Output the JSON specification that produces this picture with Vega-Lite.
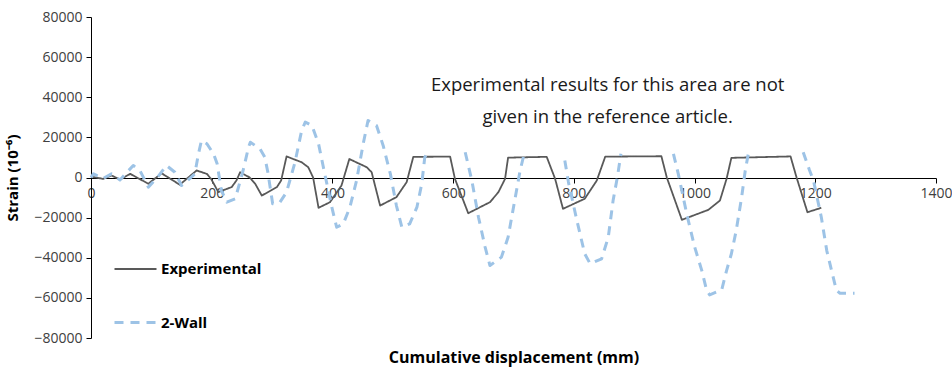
{
  "$schema": "https://vega.github.io/schema/vega-lite/v6.json",
  "width": 845,
  "height": 321,
  "autosize": {"type": "none"},
  "padding": {"left": 91, "top": 17, "right": 16, "bottom": 31},
  "background": "#ffffff",
  "config": {
    "view": {"stroke": null},
    "font": "Open Sans"
  },
  "datasets": {
    "lines": [
      {"series": "Experimental", "seg": "e", "x": 0, "y": 500},
      {"series": "Experimental", "seg": "e", "x": 20, "y": -700},
      {"series": "Experimental", "seg": "e", "x": 34, "y": 1000},
      {"series": "Experimental", "seg": "e", "x": 48, "y": -1000},
      {"series": "Experimental", "seg": "e", "x": 65, "y": 1800},
      {"series": "Experimental", "seg": "e", "x": 95, "y": -3100},
      {"series": "Experimental", "seg": "e", "x": 117, "y": 2100},
      {"series": "Experimental", "seg": "e", "x": 147, "y": -3600},
      {"series": "Experimental", "seg": "e", "x": 175, "y": 3500},
      {"series": "Experimental", "seg": "e", "x": 192, "y": 1800},
      {"series": "Experimental", "seg": "e", "x": 199, "y": -700},
      {"series": "Experimental", "seg": "e", "x": 211, "y": -7300},
      {"series": "Experimental", "seg": "e", "x": 222, "y": -6000},
      {"series": "Experimental", "seg": "e", "x": 233, "y": -4800},
      {"series": "Experimental", "seg": "e", "x": 241, "y": -1500},
      {"series": "Experimental", "seg": "e", "x": 247, "y": 2600},
      {"series": "Experimental", "seg": "e", "x": 263, "y": 0},
      {"series": "Experimental", "seg": "e", "x": 272, "y": -3100},
      {"series": "Experimental", "seg": "e", "x": 283, "y": -9000},
      {"series": "Experimental", "seg": "e", "x": 308, "y": -4800},
      {"series": "Experimental", "seg": "e", "x": 315, "y": -1500},
      {"series": "Experimental", "seg": "e", "x": 324, "y": 10500},
      {"series": "Experimental", "seg": "e", "x": 349, "y": 7600},
      {"series": "Experimental", "seg": "e", "x": 360, "y": 5100},
      {"series": "Experimental", "seg": "e", "x": 368, "y": 0},
      {"series": "Experimental", "seg": "e", "x": 377, "y": -15100},
      {"series": "Experimental", "seg": "e", "x": 396, "y": -12300},
      {"series": "Experimental", "seg": "e", "x": 415, "y": -4000},
      {"series": "Experimental", "seg": "e", "x": 428, "y": 9200},
      {"series": "Experimental", "seg": "e", "x": 457, "y": 5100},
      {"series": "Experimental", "seg": "e", "x": 465, "y": 2600},
      {"series": "Experimental", "seg": "e", "x": 479, "y": -14000},
      {"series": "Experimental", "seg": "e", "x": 506, "y": -9800},
      {"series": "Experimental", "seg": "e", "x": 523, "y": -2300},
      {"series": "Experimental", "seg": "e", "x": 534, "y": 10300},
      {"series": "Experimental", "seg": "e", "x": 595, "y": 10400},
      {"series": "Experimental", "seg": "e", "x": 603, "y": -700},
      {"series": "Experimental", "seg": "e", "x": 625, "y": -17800},
      {"series": "Experimental", "seg": "e", "x": 661, "y": -12300},
      {"series": "Experimental", "seg": "e", "x": 675, "y": -7300},
      {"series": "Experimental", "seg": "e", "x": 686, "y": -700},
      {"series": "Experimental", "seg": "e", "x": 691, "y": 9900},
      {"series": "Experimental", "seg": "e", "x": 755, "y": 10300},
      {"series": "Experimental", "seg": "e", "x": 769, "y": -700},
      {"series": "Experimental", "seg": "e", "x": 782, "y": -15600},
      {"series": "Experimental", "seg": "e", "x": 818, "y": -10600},
      {"series": "Experimental", "seg": "e", "x": 838, "y": -1500},
      {"series": "Experimental", "seg": "e", "x": 852, "y": 10400},
      {"series": "Experimental", "seg": "e", "x": 945, "y": 10600},
      {"series": "Experimental", "seg": "e", "x": 954, "y": 0},
      {"series": "Experimental", "seg": "e", "x": 979, "y": -21100},
      {"series": "Experimental", "seg": "e", "x": 1023, "y": -16100},
      {"series": "Experimental", "seg": "e", "x": 1042, "y": -11500},
      {"series": "Experimental", "seg": "e", "x": 1053, "y": -700},
      {"series": "Experimental", "seg": "e", "x": 1061, "y": 9800},
      {"series": "Experimental", "seg": "e", "x": 1159, "y": 10500},
      {"series": "Experimental", "seg": "e", "x": 1169, "y": 0},
      {"series": "Experimental", "seg": "e", "x": 1187, "y": -17300},
      {"series": "Experimental", "seg": "e", "x": 1210, "y": -15100},

      {"series": "2-Wall", "seg": "w1", "x": 0, "y": 0},
      {"series": "2-Wall", "seg": "w1", "x": 4, "y": 1800},
      {"series": "2-Wall", "seg": "w1", "x": 20, "y": -500},
      {"series": "2-Wall", "seg": "w1", "x": 34, "y": 1800},
      {"series": "2-Wall", "seg": "w1", "x": 48, "y": -1200},
      {"series": "2-Wall", "seg": "w1", "x": 70, "y": 6000},
      {"series": "2-Wall", "seg": "w1", "x": 81, "y": 3500},
      {"series": "2-Wall", "seg": "w1", "x": 95, "y": -4800},
      {"series": "2-Wall", "seg": "w1", "x": 110, "y": 0},
      {"series": "2-Wall", "seg": "w1", "x": 125, "y": 6000},
      {"series": "2-Wall", "seg": "w1", "x": 139, "y": 2600},
      {"series": "2-Wall", "seg": "w1", "x": 150, "y": -4000},
      {"series": "2-Wall", "seg": "w1", "x": 160, "y": -1500},
      {"series": "2-Wall", "seg": "w1", "x": 172, "y": 1800},
      {"series": "2-Wall", "seg": "w1", "x": 178, "y": 11800},
      {"series": "2-Wall", "seg": "w1", "x": 183, "y": 18400},
      {"series": "2-Wall", "seg": "w1", "x": 192, "y": 16800},
      {"series": "2-Wall", "seg": "w1", "x": 203, "y": 11800},
      {"series": "2-Wall", "seg": "w1", "x": 209, "y": 6800},
      {"series": "2-Wall", "seg": "w1", "x": 216, "y": -6500},
      {"series": "2-Wall", "seg": "w1", "x": 225, "y": -12300},
      {"series": "2-Wall", "seg": "w1", "x": 239, "y": -10600},
      {"series": "2-Wall", "seg": "w1", "x": 252, "y": 3500},
      {"series": "2-Wall", "seg": "w1", "x": 261, "y": 15100},
      {"series": "2-Wall", "seg": "w1", "x": 264, "y": 17600},
      {"series": "2-Wall", "seg": "w1", "x": 280, "y": 14300},
      {"series": "2-Wall", "seg": "w1", "x": 288, "y": 10100},
      {"series": "2-Wall", "seg": "w1", "x": 293, "y": 2600},
      {"series": "2-Wall", "seg": "w1", "x": 301, "y": -13100},
      {"series": "2-Wall", "seg": "w1", "x": 313, "y": -12300},
      {"series": "2-Wall", "seg": "w1", "x": 324, "y": -7300},
      {"series": "2-Wall", "seg": "w1", "x": 338, "y": 7600},
      {"series": "2-Wall", "seg": "w1", "x": 349, "y": 23400},
      {"series": "2-Wall", "seg": "w1", "x": 355, "y": 27600},
      {"series": "2-Wall", "seg": "w1", "x": 366, "y": 25900},
      {"series": "2-Wall", "seg": "w1", "x": 377, "y": 16800},
      {"series": "2-Wall", "seg": "w1", "x": 385, "y": 5100},
      {"series": "2-Wall", "seg": "w1", "x": 399, "y": -14800},
      {"series": "2-Wall", "seg": "w1", "x": 407, "y": -24800},
      {"series": "2-Wall", "seg": "w1", "x": 418, "y": -23100},
      {"series": "2-Wall", "seg": "w1", "x": 429, "y": -14800},
      {"series": "2-Wall", "seg": "w1", "x": 440, "y": -1500},
      {"series": "2-Wall", "seg": "w1", "x": 451, "y": 16800},
      {"series": "2-Wall", "seg": "w1", "x": 459, "y": 28400},
      {"series": "2-Wall", "seg": "w1", "x": 473, "y": 25900},
      {"series": "2-Wall", "seg": "w1", "x": 484, "y": 16000},
      {"series": "2-Wall", "seg": "w1", "x": 496, "y": 1800},
      {"series": "2-Wall", "seg": "w1", "x": 506, "y": -14000},
      {"series": "2-Wall", "seg": "w1", "x": 515, "y": -24800},
      {"series": "2-Wall", "seg": "w1", "x": 528, "y": -23100},
      {"series": "2-Wall", "seg": "w1", "x": 540, "y": -14800},
      {"series": "2-Wall", "seg": "w1", "x": 548, "y": -3100},
      {"series": "2-Wall", "seg": "w1", "x": 553, "y": 10100},
      {"series": "2-Wall", "seg": "w1", "x": 558, "y": 12500},

      {"series": "2-Wall", "seg": "w2", "x": 620, "y": 12600},
      {"series": "2-Wall", "seg": "w2", "x": 631, "y": -1500},
      {"series": "2-Wall", "seg": "w2", "x": 642, "y": -19800},
      {"series": "2-Wall", "seg": "w2", "x": 653, "y": -34700},
      {"series": "2-Wall", "seg": "w2", "x": 661, "y": -43900},
      {"series": "2-Wall", "seg": "w2", "x": 680, "y": -39700},
      {"series": "2-Wall", "seg": "w2", "x": 691, "y": -29800},
      {"series": "2-Wall", "seg": "w2", "x": 702, "y": -11500},
      {"series": "2-Wall", "seg": "w2", "x": 711, "y": 3500},
      {"series": "2-Wall", "seg": "w2", "x": 717, "y": 11000},

      {"series": "2-Wall", "seg": "w3", "x": 785, "y": 8500},
      {"series": "2-Wall", "seg": "w3", "x": 791, "y": -2300},
      {"series": "2-Wall", "seg": "w3", "x": 805, "y": -21400},
      {"series": "2-Wall", "seg": "w3", "x": 818, "y": -38000},
      {"series": "2-Wall", "seg": "w3", "x": 827, "y": -43000},
      {"series": "2-Wall", "seg": "w3", "x": 846, "y": -40500},
      {"series": "2-Wall", "seg": "w3", "x": 857, "y": -29800},
      {"series": "2-Wall", "seg": "w3", "x": 865, "y": -11500},
      {"series": "2-Wall", "seg": "w3", "x": 872, "y": 0},
      {"series": "2-Wall", "seg": "w3", "x": 878, "y": 11800},

      {"series": "2-Wall", "seg": "w4", "x": 965, "y": 11800},
      {"series": "2-Wall", "seg": "w4", "x": 973, "y": 1800},
      {"series": "2-Wall", "seg": "w4", "x": 987, "y": -18100},
      {"series": "2-Wall", "seg": "w4", "x": 1000, "y": -34500},
      {"series": "2-Wall", "seg": "w4", "x": 1012, "y": -46400},
      {"series": "2-Wall", "seg": "w4", "x": 1020, "y": -56300},
      {"series": "2-Wall", "seg": "w4", "x": 1025, "y": -58500},
      {"series": "2-Wall", "seg": "w4", "x": 1045, "y": -56000},
      {"series": "2-Wall", "seg": "w4", "x": 1053, "y": -46400},
      {"series": "2-Wall", "seg": "w4", "x": 1061, "y": -38000},
      {"series": "2-Wall", "seg": "w4", "x": 1069, "y": -26400},
      {"series": "2-Wall", "seg": "w4", "x": 1078, "y": -9800},
      {"series": "2-Wall", "seg": "w4", "x": 1084, "y": 3500},
      {"series": "2-Wall", "seg": "w4", "x": 1089, "y": 11800},

      {"series": "2-Wall", "seg": "w5", "x": 1180, "y": 12600},
      {"series": "2-Wall", "seg": "w5", "x": 1190, "y": 4000},
      {"series": "2-Wall", "seg": "w5", "x": 1197, "y": -1500},
      {"series": "2-Wall", "seg": "w5", "x": 1210, "y": -19800},
      {"series": "2-Wall", "seg": "w5", "x": 1219, "y": -36400},
      {"series": "2-Wall", "seg": "w5", "x": 1227, "y": -46400},
      {"series": "2-Wall", "seg": "w5", "x": 1235, "y": -56300},
      {"series": "2-Wall", "seg": "w5", "x": 1241, "y": -57700},
      {"series": "2-Wall", "seg": "w5", "x": 1265, "y": -57700}
    ],
    "note": [
      {"x": 856, "y": 46000, "text": "Experimental results for this area are not"},
      {"x": 856, "y": 30000, "text": "given in the reference article."}
    ]
  },
  "layer": [
    {
      "data": {"name": "lines"},
      "mark": {"type": "line", "strokeCap": "butt", "strokeJoin": "round"},
      "encoding": {
        "x": {
          "field": "x", "type": "quantitative",
          "scale": {"domain": [0, 1400], "nice": false, "zero": false},
          "axis": {
            "values": [0, 200, 400, 600, 800, 1000, 1200, 1400],
            "format": "d",
            "grid": false,
            "offset": -160,
            "domainColor": "#000000",
            "domainWidth": 1,
            "tickColor": "#000000",
            "tickSize": 5,
            "labelFontSize": 14,
            "labelColor": "#404040",
            "labelPadding": 3,
            "labelFlush": false,
            "title": "Cumulative displacement (mm)",
            "titleFontSize": 16,
            "titleFontWeight": "bold",
            "titleColor": "#000000",
            "titleBaseline": "alphabetic",
            "titleY": 184
          }
        },
        "y": {
          "field": "y", "type": "quantitative",
          "scale": {"domain": [-80000, 80000], "nice": false},
          "axis": {
            "values": [-80000, -60000, -40000, -20000, 0, 20000, 40000, 60000, 80000],
            "format": "d",
            "grid": false,
            "domainColor": "#000000",
            "tickColor": "#000000",
            "tickSize": 5,
            "labelFontSize": 14,
            "labelColor": "#404040",
            "labelPadding": 4,
            "title": "Strain (10⁻⁶)",
            "titleFontSize": 15,
            "titleFontWeight": "bold",
            "titleColor": "#000000",
            "titlePadding": 13
          }
        },
        "detail": {"field": "seg"},
        "color": {
          "field": "series", "type": "nominal",
          "scale": {"domain": ["Experimental", "2-Wall"], "range": ["#595959", "#9DC3E6"]},
          "legend": {
            "title": null,
            "orient": "none",
            "legendX": 22,
            "legendY": 230,
            "symbolType": "stroke",
            "symbolSize": 1764,
            "symbolStrokeWidth": 2.5,
            "labelFontSize": 15,
            "labelFontWeight": "bold",
            "labelColor": "#000000",
            "labelOffset": 3,
            "rowPadding": 23
          }
        },
        "strokeDash": {
          "field": "series", "type": "nominal",
          "scale": {"domain": ["Experimental", "2-Wall"], "range": [[1, 0], [9, 7]]}
        },
        "strokeWidth": {
          "field": "series", "type": "nominal",
          "scale": {"domain": ["Experimental", "2-Wall"], "range": [1.8, 3]}
        }
      }
    },
    {
      "data": {"name": "note"},
      "mark": {"type": "text", "fontSize": 18.5, "color": "#1a1a1a", "align": "center", "baseline": "middle", "font": "Open Sans"},
      "encoding": {
        "x": {"field": "x", "type": "quantitative"},
        "y": {"field": "y", "type": "quantitative"},
        "text": {"field": "text"}
      }
    }
  ]
}
